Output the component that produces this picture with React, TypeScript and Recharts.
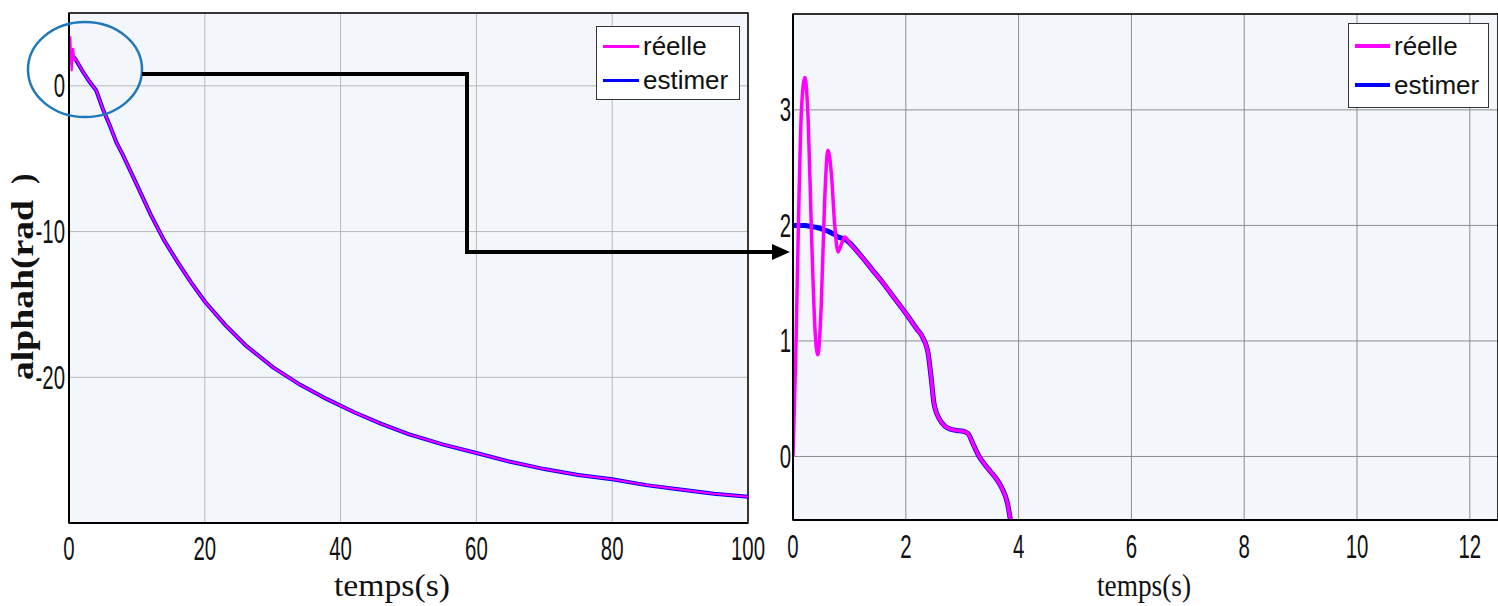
import React from "react";
import {
  LineChart,
  Line,
  XAxis,
  YAxis,
  CartesianGrid,
  ReferenceArea,
} from "recharts";

// left panel: full run 0..100 s
const leftTime = [0, 0.2, 0.4, 0.6, 0.8, 1, 2, 3, 4, 5, 6, 7, 8, 10, 12, 14, 16, 18, 20, 23, 26, 30, 34, 38, 42, 46, 50, 55, 60, 65, 70, 75, 80, 85, 90, 95, 100];
const leftReelle = [1.0, 3.4, 1.0, 2.6, 1.8, 1.85, 1.0, 0.3, -0.3, -1.6, -2.7, -3.9, -4.8, -6.8, -8.8, -10.6, -12.1, -13.5, -14.8, -16.4, -17.8, -19.3, -20.5, -21.5, -22.4, -23.2, -23.9, -24.6, -25.2, -25.8, -26.3, -26.7, -27.0, -27.4, -27.7, -28.0, -28.2];
const leftEstimer = [2.0, 2.02, 2.05, 2.0, 1.9, 1.8, 1.0, 0.3, -0.3, -1.6, -2.7, -3.9, -4.8, -6.8, -8.8, -10.6, -12.1, -13.5, -14.8, -16.4, -17.8, -19.3, -20.5, -21.5, -22.4, -23.2, -23.9, -24.6, -25.2, -25.8, -26.3, -26.7, -27.0, -27.4, -27.7, -28.0, -28.2];
const leftXTicks = [0, 20, 40, 60, 80, 100];
const leftYTicks = [-20, -10, 0];

// right panel: zoom on the first seconds
const rightTime = [0, 0.05, 0.1, 0.15, 0.21, 0.27, 0.33, 0.39, 0.44, 0.5, 0.56, 0.62, 0.68, 0.74, 0.8, 0.86, 0.92, 1.0, 1.2, 1.4, 1.6, 1.8, 2.0, 2.2, 2.3, 2.4, 2.45, 2.5, 2.6, 2.7, 2.8, 2.9, 3.0, 3.1, 3.2, 3.3, 3.4, 3.5, 3.6, 3.7, 3.8, 3.9];
const rightReelle = [0, 0.9, 2.1, 3.0, 3.28, 2.9, 1.9, 1.1, 0.88, 1.3, 2.2, 2.65, 2.45, 2.0, 1.77, 1.84, 1.9, 1.85, 1.74, 1.62, 1.5, 1.37, 1.24, 1.1, 1.03, 0.88, 0.68, 0.46, 0.32, 0.26, 0.235, 0.225, 0.22, 0.2, 0.1, 0.0, -0.07, -0.13, -0.19, -0.27, -0.4, -0.7];
const rightEstimer = [2, 2, 2, 2, 2, 1.995, 1.99, 1.985, 1.98, 1.97, 1.96, 1.95, 1.935, 1.92, 1.9, 1.89, 1.88, 1.85, 1.74, 1.62, 1.5, 1.37, 1.24, 1.1, 1.03, 0.88, 0.68, 0.46, 0.32, 0.26, 0.235, 0.225, 0.22, 0.2, 0.1, 0.0, -0.07, -0.13, -0.19, -0.27, -0.4, -0.7];
const rightXTicks = [0, 2, 4, 6, 8, 10, 12];
const rightYTicks = [0, 1, 2, 3];

const legendNames = ["réelle", "estimer"];

const leftData = leftTime.map((t, i) => ({ t, reelle: leftReelle[i], estimer: leftEstimer[i] }));
const rightData = rightTime.map((t, i) => ({ t, reelle: rightReelle[i], estimer: rightEstimer[i] }));

const MAGENTA = "#ff00ff";
const BLUE = "#0000ff";
const PLOT_BG = "#f3f7fc";

// narrow, tall tick digits like the matlab export
const NarrowTick = ({ x, y, payload, anchor, dx = 0, dy = 0 }: any) => (
  <g transform={`translate(${x + dx},${y + dy})`}>
    <text
      transform="scale(0.6,1)"
      textAnchor={anchor}
      dominantBaseline="central"
      fontSize={34}
      fontFamily="'Liberation Sans', Arial, sans-serif"
      fill="#111"
    >
      {payload.value}
    </text>
  </g>
);

const LegendBox = ({ left, top, width, height, lineW, sample }: any) => (
  <div
    style={{
      position: "absolute",
      left,
      top,
      width,
      height,
      boxSizing: "border-box",
      border: "1.5px solid #333",
      background: "#fff",
      fontFamily: "'Liberation Sans', Arial, sans-serif",
      fontSize: 26,
      color: "#111",
      display: "flex",
      flexDirection: "column",
      justifyContent: "space-around",
      padding: "2px 0 2px 6px",
    }}
  >
    {legendNames.map((name, i) => (
      <div key={name} style={{ display: "flex", alignItems: "center", lineHeight: "30px" }}>
        <span style={{ display: "inline-block", width: sample, height: lineW, background: i === 0 ? MAGENTA : BLUE, marginRight: 4 }} />
        {name}
      </div>
    ))}
  </div>
);

export default function App() {
  return (
    <div style={{ position: "absolute", left: 0, top: 0, width: 1498, height: 606, background: "#fff", overflow: "hidden" }}>
      <div style={{ position: "absolute", left: 0, top: 0 }}>
        <LineChart width={790} height={606} data={leftData} margin={{ top: 13, right: 42, bottom: 0, left: 39 }}>
          <CartesianGrid stroke="#b8b8b8" strokeWidth={1} fill={PLOT_BG} />
          <XAxis
            dataKey="t"
            type="number"
            domain={[0, 100]}
            ticks={leftXTicks}
            height={83}
            tickLine={false}
            tickSize={0}
            tickMargin={0}
            axisLine={{ stroke: "#000", strokeWidth: 2 }}
            tick={<NarrowTick anchor="middle" dy={25} />}
          />
          <YAxis
            type="number"
            domain={[-30, 5]}
            ticks={leftYTicks}
            width={30}
            tickLine={false}
            tickSize={0}
            tickMargin={4}
            allowDataOverflow
            axisLine={{ stroke: "#000", strokeWidth: 2 }}
            tick={<NarrowTick anchor="end" />}
          />
          <ReferenceArea x1={0} x2={100} y1={-30} y2={5} fill="none" stroke="#000" strokeWidth={1.5} ifOverflow="visible" />
          <Line type="linear" dataKey="estimer" stroke={BLUE} strokeWidth={4} dot={false} isAnimationActive={false} />
          <Line type="linear" dataKey="reelle" stroke={MAGENTA} strokeWidth={2} dot={false} isAnimationActive={false} />
        </LineChart>
      </div>

      <div style={{ position: "absolute", left: 760, top: 0 }}>
        <LineChart width={738} height={606} data={rightData} margin={{ top: 14, right: 0, bottom: 0, left: 3 }}>
          <CartesianGrid stroke="#8c8c8c" strokeWidth={1} fill={PLOT_BG} />
          <XAxis
            dataKey="t"
            type="number"
            domain={[0, 12.5]}
            ticks={rightXTicks}
            height={86}
            tickLine={false}
            tickSize={0}
            tickMargin={0}
            allowDataOverflow
            axisLine={{ stroke: "#000", strokeWidth: 2 }}
            tick={<NarrowTick anchor="middle" dy={26} />}
          />
          <YAxis
            type="number"
            domain={[-0.55, 3.83]}
            ticks={rightYTicks}
            width={30}
            tickLine={false}
            tickSize={0}
            tickMargin={2}
            allowDataOverflow
            axisLine={{ stroke: "#000", strokeWidth: 2 }}
            tick={<NarrowTick anchor="end" />}
          />
          <ReferenceArea x1={0} x2={12.5} y1={-0.55} y2={3.83} fill="none" stroke="#000" strokeWidth={1.5} ifOverflow="visible" />
          <Line type="monotone" dataKey="estimer" stroke={BLUE} strokeWidth={5} dot={false} isAnimationActive={false} />
          <Line type="monotone" dataKey="reelle" stroke={MAGENTA} strokeWidth={3.5} dot={false} isAnimationActive={false} />
        </LineChart>
      </div>

      <LegendBox left={596} top={26} width={144} height={74} lineW={3} sample={36} />
      <LegendBox left={1348} top={23} width={141} height={85} lineW={4} sample={35} />

      {/* annotations: zoom ellipse, arrow and axis titles */}
      <svg width={1498} height={606} style={{ position: "absolute", left: 0, top: 0, pointerEvents: "none" }}>
        <ellipse cx={85} cy={69.5} rx={57} ry={47.5} fill="none" stroke="#1f78b8" strokeWidth={2.5} />
        <path d="M142,74 H467 V252 H774" fill="none" stroke="#000" strokeWidth={4} />
        <polygon points="790,252 772,244 772,260" fill="#000" />
        <g transform="translate(33,380) rotate(-90)">
          <text
            x={0}
            y={0}
            fontSize={31}
            fontWeight="bold"
            fontFamily="'Liberation Serif', 'Times New Roman', serif"
            textLength={180}
            lengthAdjust="spacingAndGlyphs"
            fill="#111"
          >
            alphah(rad
          </text>
          <text x={196} y={0} fontSize={31} fontWeight="bold" fontFamily="'Liberation Serif', serif" fill="#111">
            )
          </text>
        </g>
        <text x={392} y={596} textAnchor="middle" fontSize={31} fontFamily="'Liberation Serif', 'Times New Roman', serif" fill="#111" textLength={116} lengthAdjust="spacingAndGlyphs">
          temps(s)
        </text>
        <text x={1144} y={596} textAnchor="middle" fontSize={31} fontFamily="'Liberation Serif', 'Times New Roman', serif" fill="#111" textLength={94} lengthAdjust="spacingAndGlyphs">
          temps(s)
        </text>
      </svg>
    </div>
  );
}
